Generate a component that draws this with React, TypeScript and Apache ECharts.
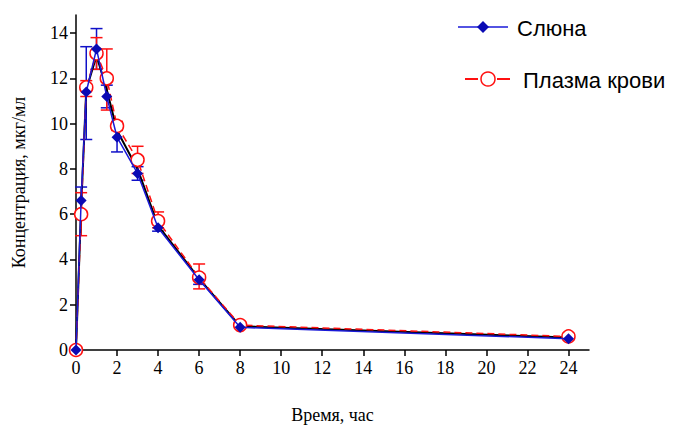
import React, { useEffect, useRef } from "react";
import * as echarts from "echarts";

const times = [0, 0.25, 0.5, 1, 1.5, 2, 3, 4, 6, 8, 24];
const saliva = [0, 6.6, 11.4, 13.3, 11.2, 9.4, 7.8, 5.4, 3.1, 1.0, 0.5];
const plasma = [0, 6.0, 11.6, 13.1, 12.0, 9.9, 8.4, 5.7, 3.2, 1.1, 0.6];
const fitted = [0, 6.3, 11.5, 13.0, 11.5, 9.7, 8.0, 5.5, 3.15, 1.05, 0.55];

// error bars: [time, low, high]
const salivaErr = [
  [0.25, 6.1, 7.2],
  [0.5, 9.3, 13.4],
  [1, 12.4, 14.2],
  [1.5, 10.7, 11.7],
  [2, 8.75, 10.0],
  [3, 7.5, 8.1],
  [4, 5.25, 5.55],
  [6, 2.9, 3.35],
];
const plasmaErr = [
  [0.25, 5.05, 6.95],
  [0.5, 11.2, 11.9],
  [1, 12.4, 13.8],
  [1.5, 10.6, 13.3],
  [2, 9.7, 10.1],
  [3, 7.8, 9.0],
  [4, 5.4, 6.1],
  [6, 2.7, 3.8],
];

const xTicks = [0, 2, 4, 6, 8, 10, 12, 14, 16, 18, 20, 22, 24];
const yTicks = [0, 2, 4, 6, 8, 10, 12, 14];

const serif = "'Liberation Serif', 'DejaVu Serif', serif";
const sans = "'Liberation Sans', Arial, sans-serif";

function errSeries(data: number[][], color: string) {
  return {
    type: "custom",
    silent: true,
    z: 1,
    data,
    renderItem: (params: any, api: any) => {
      const x = api.value(0);
      const lo = api.coord([x, api.value(1)]);
      const hi = api.coord([x, api.value(2)]);
      const w = 6;
      const style = { stroke: color, lineWidth: 1.5 };
      return {
        type: "group",
        children: [
          { type: "line", shape: { x1: lo[0], y1: lo[1], x2: hi[0], y2: hi[1] }, style },
          { type: "line", shape: { x1: lo[0] - w, y1: lo[1], x2: lo[0] + w, y2: lo[1] }, style },
          { type: "line", shape: { x1: hi[0] - w, y1: hi[1], x2: hi[0] + w, y2: hi[1] }, style },
        ],
      };
    },
  };
}

export default function App() {
  const ref = useRef<HTMLDivElement>(null);
  useEffect(() => {
    document.body.style.margin = "0";
    if (!ref.current) return;
    const chart = echarts.init(ref.current, null, { renderer: "svg" });
    const pair = (arr: number[]) => times.map((t, i) => [t, arr[i]]);
    chart.setOption({
      animation: false,
      backgroundColor: "#fff",
      grid: { left: 76, right: 88, top: 15, bottom: 77, containLabel: false },
      xAxis: {
        type: "value",
        min: 0,
        max: 25,
        interval: 2,
        name: "Время, час",
        nameLocation: "middle",
        nameGap: 56,
        nameTextStyle: { fontFamily: serif, fontSize: 18, color: "#000" },
        axisLine: { onZero: false, lineStyle: { color: "#000", width: 1.5 } },
        axisTick: { show: true, length: 6, inside: false, customValues: xTicks, lineStyle: { color: "#000", width: 1.5 } },
        axisLabel: { customValues: xTicks, fontFamily: serif, fontSize: 18, color: "#000", margin: 9 },
        splitLine: { show: false },
      },
      yAxis: {
        type: "value",
        min: 0,
        max: 14.8,
        interval: 2,
        name: "Концентрация, мкг/мл",
        nameLocation: "middle",
        nameGap: 48,
        nameTextStyle: { fontFamily: serif, fontSize: 18, color: "#000" },
        axisLine: { show: true, onZero: false, lineStyle: { color: "#000", width: 1.5 } },
        axisTick: { show: true, length: 6, inside: false, customValues: yTicks, lineStyle: { color: "#000", width: 1.5 } },
        axisLabel: { customValues: yTicks, fontFamily: serif, fontSize: 18, color: "#000", margin: 8 },
        splitLine: { show: false },
      },
      series: [
        errSeries(salivaErr, "#1010c8"),
        errSeries(plasmaErr, "#ff1010"),
        {
          type: "line",
          data: pair(fitted),
          showSymbol: false,
          symbol: "none",
          lineStyle: { color: "#000", width: 2 },
          z: 2,
          silent: true,
        },
        {
          name: "Плазма крови",
          type: "line",
          data: pair(plasma),
          symbol: "circle",
          symbolSize: 13,
          itemStyle: { color: "#fff", borderColor: "#ff1010", borderWidth: 1.5 },
          lineStyle: { color: "#ff1010", width: 1.5, type: [7, 4] },
          z: 3,
        },
        {
          name: "Слюна",
          type: "line",
          data: pair(saliva),
          symbol: "diamond",
          symbolSize: 11,
          itemStyle: { color: "#0a0ab4" },
          lineStyle: { color: "#1a1ad8", width: 1.5 },
          z: 4,
        },
      ],
      graphic: [
        { type: "line", shape: { x1: 458, y1: 27, x2: 508, y2: 27 }, style: { stroke: "#1a1ad8", lineWidth: 1.5 } },
        { type: "polygon", shape: { points: [[483, 21], [489, 27], [483, 33], [477, 27]] }, style: { fill: "#0a0ab4" } },
        { type: "text", x: 517, y: 28, style: { text: "Слюна", font: `22px ${sans}`, fill: "#000", verticalAlign: "middle", align: "left" } },
        { type: "line", shape: { x1: 465, y1: 79, x2: 478, y2: 79 }, style: { stroke: "#ff1010", lineWidth: 2 } },
        { type: "line", shape: { x1: 497, y1: 79, x2: 510, y2: 79 }, style: { stroke: "#ff1010", lineWidth: 2 } },
        { type: "circle", shape: { cx: 488, cy: 79, r: 7 }, style: { fill: "#fff", stroke: "#ff1010", lineWidth: 1.5 } },
        { type: "text", x: 523, y: 80, style: { text: "Плазма крови", font: `22px ${sans}`, fill: "#000", verticalAlign: "middle", align: "left" } },
      ],
    });
    return () => chart.dispose();
  }, []);
  return <div ref={ref} style={{ width: 677, height: 429 }} />;
}
